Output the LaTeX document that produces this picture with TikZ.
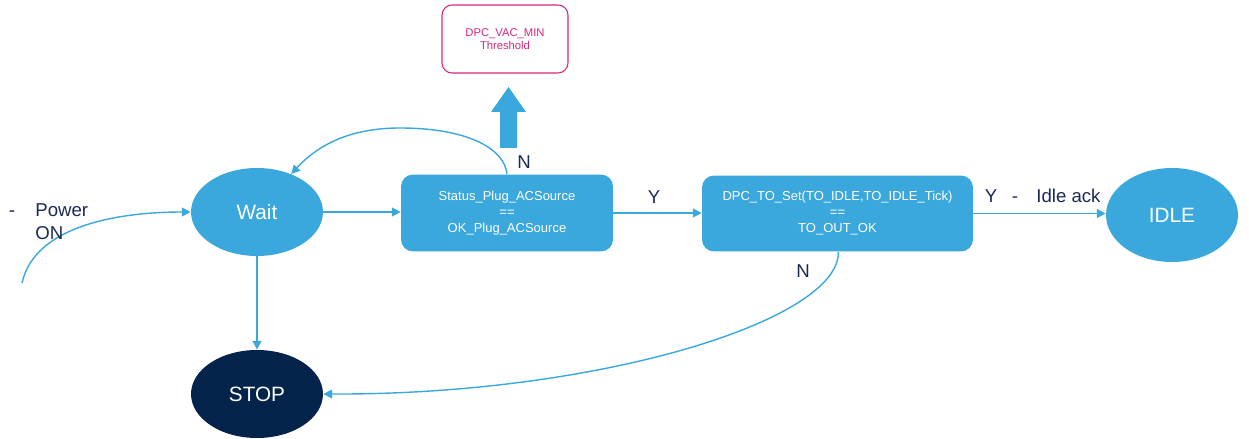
\documentclass[tikz,border=0pt]{standalone}
\usepackage{fontspec}
\setmainfont{Liberation Sans}
\usetikzlibrary{shapes.geometric,arrows.meta}
\definecolor{stblue}{HTML}{3AA8DC}
\definecolor{stnavy}{HTML}{03234B}
\definecolor{txtnavy}{HTML}{1B2A55}
\definecolor{stpink}{HTML}{D6267E}
\begin{document}
\begin{tikzpicture}[x=0.02cm,y=-0.02cm,
  state/.style={ellipse,fill=stblue,text=white,minimum width=2.64cm,minimum height=1.76cm,inner sep=0pt,font=\fontsize{11.8pt}{13pt}\selectfont},
  stopstate/.style={state,fill=stnavy},
  cond/.style={rectangle,rounded corners=0.24cm,fill=stblue,text=white,align=center,inner sep=0pt,font=\fontsize{7.4pt}{9.1pt}\selectfont},
  thr/.style={rectangle,rounded corners=0.2cm,draw=stpink,line width=0.6pt,fill=white,text=stpink,align=center,minimum width=2.52cm,minimum height=1.36cm,inner sep=0pt,font=\fontsize{6.4pt}{7.6pt}\selectfont},
  lbl/.style={text=txtnavy,inner sep=0pt,anchor=base,font=\fontsize{10.6pt}{13pt}\selectfont},
  conn/.style={draw=stblue,line width=0.8pt,-{Triangle[length=5pt,width=5pt]}},
]
\useasboundingbox (0,0) rectangle (1249,439);
\node[state] (wait) at (257,212) {Wait};
\node[stopstate] (stop) at (257,394) {STOP};
\node[state,minimum height=1.88cm] (idle) at (1172,215) {IDLE};
\node[cond,minimum width=4.24cm,minimum height=1.54cm] (c1) at (507,213) {Status\_Plug\_ACSource\\==\\OK\_Plug\_ACSource};
\node[cond,minimum width=5.42cm,minimum height=1.52cm] (c2) at (837.5,213.5) {DPC\_TO\_Set(TO\_IDLE,TO\_IDLE\_Tick)\\==\\TO\_OUT\_OK};
\node[thr] (th) at (505,39) {DPC\_VAC\_MIN\\Threshold};
% big arrow
\fill[stblue] (500,148) -- (517,148) -- (517,112) -- (526,112) -- (508.5,87) -- (491,112) -- (500,112) -- cycle;
% connectors
\coordinate (pstart) at (22,283);
\draw[conn] (pstart) .. controls (35,225) and (120,212) .. (wait.west);
\draw[conn] (wait.east) -- (wait.east -| c1.west);
\draw[conn] (c1.east) -- (c1.east -| c2.west);
\draw[conn] (c2.east) -- (c2.east -| idle.west);
\draw[conn] (wait.south) -- (stop.north);
\draw[conn] (c1.north) .. controls (505,150) and (470,128) .. (400,128) .. controls (350,128) and (318,145) .. (wait.48);
\draw[conn] ([xshift=0.5]c2.south) .. controls (840,320) and (600,395) .. (stop.east);
% labels
\node[lbl] (dash1) at (12,216) {-};
\node[lbl,anchor=base west] (pwr) at (35,216) {Power};
\node[lbl,anchor=base west] (on) at (35,239) {ON};
\node[lbl] (n1) at (524,169) {N};
\node[lbl] (y1) at (654,204) {Y};
\node[lbl] (y2) at (991,203) {Y};
\node[lbl] (dash2) at (1015,203) {-};
\node[lbl,anchor=base west] (ack) at (1036,203) {Idle ack};
\node[lbl] (n2) at (803,277) {N};
\end{tikzpicture}
\end{document}
